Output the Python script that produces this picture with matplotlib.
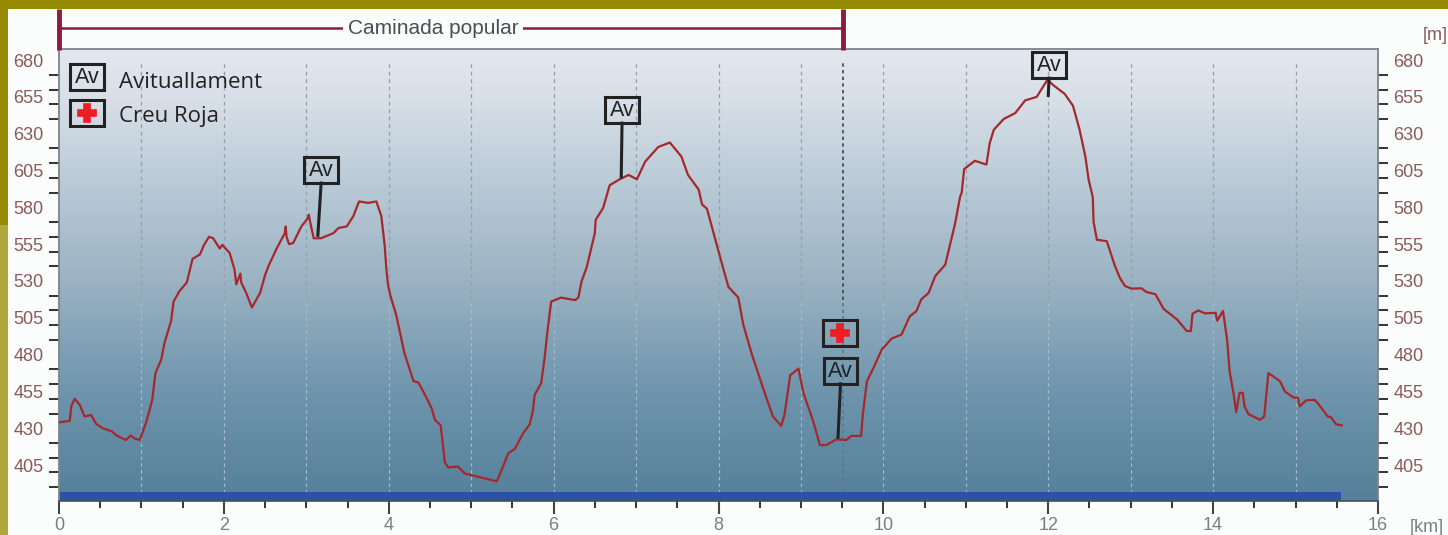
#!/usr/bin/env python3
# Perfil d'elevacio de la caminada popular
import numpy as np
import matplotlib
matplotlib.use("Agg")
import matplotlib.pyplot as plt
from matplotlib.colors import LinearSegmentedColormap
from matplotlib.patches import Rectangle

# Profile
km = [0, 0.13, 0.15, 0.19, 0.25, 0.31, 0.39, 0.45, 0.53, 0.64, 0.70, 0.81, 0.87, 0.92, 0.98,
      1.06, 1.13, 1.17, 1.24, 1.28, 1.36, 1.39, 1.46, 1.55, 1.62, 1.71, 1.76, 1.82, 1.87, 1.95,
      1.98, 2.07, 2.13, 2.15, 2.20, 2.21, 2.27, 2.34, 2.44, 2.50, 2.54, 2.64, 2.74, 2.75, 2.76,
      2.79, 2.84, 2.94, 3.02, 3.03, 3.05, 3.09, 3.18, 3.33, 3.39, 3.49, 3.57, 3.64, 3.75, 3.85,
      3.91, 3.95, 3.97, 3.99, 4.02, 4.09, 4.19, 4.30, 4.36, 4.44, 4.52, 4.56, 4.63, 4.68, 4.72,
      4.84, 4.92, 5.10, 5.31, 5.35, 5.45, 5.53, 5.63, 5.71, 5.75, 5.77, 5.85, 5.89, 5.93, 5.97,
      6.09, 6.26, 6.30, 6.34, 6.40, 6.50, 6.51, 6.60, 6.68, 6.80, 6.91, 7.01, 7.11, 7.27, 7.41,
      7.55, 7.63, 7.76, 7.80, 7.86, 7.94, 8.05, 8.12, 8.24, 8.30, 8.40, 8.54, 8.66, 8.76, 8.80,
      8.87, 8.97, 9.03, 9.15, 9.23, 9.31, 9.43, 9.55, 9.61, 9.73, 9.75, 9.80, 9.88, 9.98, 10.10,
      10.22, 10.32, 10.40, 10.46, 10.55, 10.63, 10.75, 10.87, 10.93, 10.95, 10.98, 11.11, 11.25,
      11.29, 11.34, 11.46, 11.60, 11.72, 11.86, 11.99, 12.06, 12.20, 12.30, 12.38, 12.45, 12.49,
      12.54, 12.55, 12.59, 12.71, 12.81, 12.87, 12.93, 13.01, 13.13, 13.19, 13.30, 13.40, 13.56,
      13.68, 13.73, 13.75, 13.82, 13.90, 14.03, 14.05, 14.12, 14.17, 14.20, 14.25, 14.28, 14.32,
      14.36, 14.38, 14.43, 14.57, 14.62, 14.67, 14.81, 14.87, 14.97, 15.03, 15.05, 15.13, 15.23,
      15.27, 15.39, 15.43, 15.49, 15.56]
elev = [434, 435, 445, 450, 446, 438, 439, 433, 430, 428, 425, 422, 425, 423, 422,
        434.5, 449, 467.5, 476.6, 488, 503, 516, 523, 529, 545, 548, 554.5, 560, 559, 552,
        554.5, 549, 537.6, 527.7, 535, 529, 522, 512, 522, 534, 540, 552, 562.5, 567, 560,
        555, 555.7, 567, 572.7, 575, 569, 559, 559, 562.5, 566, 567, 574, 584, 583, 584,
        574, 554.5, 539, 527.7, 520, 507, 481, 462, 461, 452.7, 443.6, 435.7, 432, 407, 403.4,
        404, 399.3, 396.8, 394, 399, 413, 416, 426.6, 432.7, 442.5, 452.7, 460.7, 477.7, 498, 516,
        518.7, 517, 518.7, 530, 539, 562.5, 571.5, 579.5, 595, 599, 602, 599, 611, 621, 624,
        614.5, 602, 592, 582, 579, 562.5, 540, 526, 518.7, 500.5, 481, 457.3, 438, 431.6, 439,
        466, 470.5, 454, 434.5, 418.6, 418.6, 422.5, 422, 424.8, 424.8, 439, 461.8, 471, 483.4, 490.9,
        493.6, 506, 509.5, 517.5, 522, 533.4, 541, 569, 587, 590, 606, 611.6, 609,
        623.6, 632.7, 640, 644, 652.6, 655, 666.6, 663, 657, 649, 632.7, 614.5, 598.7,
        587, 570, 558, 557, 540, 532, 526.6, 524.8, 525, 522.5, 521, 511, 504,
        496, 496, 507.7, 510, 508, 508.4, 503, 509.6, 490, 468.6, 452.7, 441, 454,
        454, 445, 439.5, 435.7, 438, 467.5, 462, 455, 451, 450.5, 444.8, 449, 449.3,
        447, 438, 437.5, 432.7, 432]

y_labels = [680, 655, 630, 605, 580, 555, 530, 505, 480, 455, 430, 405]
x_labels = [0, 2, 4, 6, 8, 10, 12, 14, 16]

# Av markers: box centre, then where the stem lands on the profile
av_km = [3.18, 6.83, 9.48, 12.01]
av_elev = [605.3, 646, 469, 676.6]
stem_km = [3.14, 6.82, 9.45, 12.0]
stem_elev = [561, 600.6, 424, 656]
cross_km = 9.47
cross_elev = 494.7

route_name = "Caminada popular"
route_end = 9.51
total_km = 15.55

BG = "#fbfcfc"
OLIVE = "#958a00"
OLIVE_LIGHT = "#b0a83c"
MAROON = "#8c1a3c"
LINE_RED = "#a5282c"
BOX_W = 0.41
BOX_H = 17.6

fig = plt.figure(figsize=(14.48, 5.35), dpi=100, facecolor=BG)
ax = fig.add_axes([59 / 1448, 1 - 501 / 535, (1378 - 59) / 1448, (501 - 49) / 535])
ax.set_xlim(0, 16)
ax.set_ylim(380.6, 687.5)

# Olive frame of the page
fig.patches.append(Rectangle((0, 1 - 9 / 535), 1, 9 / 535, transform=fig.transFigure, color=OLIVE, lw=0))
fig.patches.append(Rectangle((0, 1 - 225 / 535), 8 / 1448, 216 / 535, transform=fig.transFigure, color=OLIVE, lw=0))
fig.patches.append(Rectangle((0, 0), 8 / 1448, 310 / 535, transform=fig.transFigure, color=OLIVE_LIGHT, lw=0))

# Background gradient
cmap = LinearSegmentedColormap.from_list("sky", [(0, "#e3e8ef"), (0.12, "#d6dee7"), (0.3, "#b9cad6"),
                                                 (0.5, "#9db4c4"), (0.75, "#7096ae"), (1, "#557f9a")])
ax.imshow(np.linspace(0, 1, 256).reshape(-1, 1), cmap=cmap, aspect="auto", extent=[0, 16, 380.6, 687.5], zorder=0)

# Grid, dark on the light part and pale on the dark part
grid_km = np.arange(1, 16)
ax.vlines(grid_km, 517, 680, color="#939ea8", lw=0.9, linestyles=(0, (3, 3)), zorder=1)
ax.vlines(grid_km, 386, 517, color="#a9bdca", lw=0.8, linestyles=(0, (3, 3)), zorder=1)
ax.vlines(route_end, 517, 680, color="#3c4650", lw=1.2, linestyles=(0, (2, 2)), zorder=1)
ax.vlines(route_end, 386, 517, color="#55798f", lw=1.2, linestyles=(0, (2, 2)), zorder=1)

# Distance bar at the bottom
ax.barh(383.6, total_km, height=6, left=0, color="#2c52a8", zorder=2)

ax.plot(km, elev, color=LINE_RED, lw=1.6, zorder=3)


def draw_box(x, y):
    ax.add_patch(Rectangle((x - BOX_W / 2, y - BOX_H / 2), BOX_W, BOX_H, fill=False,
                           edgecolor="#222222", lw=2.2, zorder=5))


def draw_av(x, y):
    draw_box(x, y)
    ax.text(x, y - 0.5, "Av", ha="center", va="center", fontsize=15.5, color="#222222",
            family="Liberation Sans", zorder=5)


def draw_cross(x, y):
    draw_box(x, y)
    ax.plot(x, y, marker="P", ms=13.5, color="#ee1c25", mew=1.2, mec="#ee1c25", zorder=5)


for i in range(len(av_km)):
    draw_av(av_km[i], av_elev[i])
    ax.plot([av_km[i], stem_km[i]], [av_elev[i] - BOX_H / 2, stem_elev[i]], color="#222222", lw=2.2, zorder=4)

draw_cross(cross_km, cross_elev)

# Legend
draw_av(0.34, 668.5)
draw_cross(0.34, 644)
ax.text(0.73, 664.7, "Avituallament", fontsize=16, family="Open Sans", color="#222222", va="center", zorder=5)
ax.text(0.73, 641.5, "Creu Roja", fontsize=16, family="Open Sans", color="#222222", va="center", zorder=5)

# Route bracket above the plot
ax.plot([0, route_end], [701.7, 701.7], color=MAROON, lw=1.8, clip_on=False, zorder=6)
for x in [0, route_end]:
    ax.plot([x, x], [687, 714.6], color=MAROON, lw=3.5, clip_on=False, solid_capstyle="butt", zorder=6)
ax.text(4.54, 701.2, route_name, ha="center", va="center", fontsize=15, color="#4a4f55",
        family="Liberation Sans", clip_on=False, zorder=7,
        bbox=dict(facecolor=BG, edgecolor="none", pad=3.5))

# Axes and ticks
for side in ["left", "right", "top"]:
    ax.spines[side].set_color("#7d8488")
    ax.spines[side].set_linewidth(1.3)
ax.spines["bottom"].set_color("#4a4f55")
ax.spines["bottom"].set_linewidth(1.2)

ax.set_yticks(y_labels)
ax.set_yticklabels([str(v) for v in y_labels])
ax.set_yticks(np.arange(390, 690, 10), minor=True)
ax.set_xticks(x_labels)
ax.set_xticklabels([str(v) for v in x_labels])
ax.set_xticks(np.arange(0, 16.5, 0.5), minor=True)

ax.tick_params(axis="y", which="major", length=0, left=True, right=True, labelleft=True, labelright=True,
               pad=11, labelsize=13, labelcolor="#8a5a5a", labelfontfamily="Liberation Sans")
ax.tick_params(axis="y", which="minor", length=7, width=1.4, left=True, right=True, color="#333333")
ax.tick_params(axis="x", which="major", length=9, width=1.5, pad=2.5, labelsize=13, labelcolor="#7b7f82",
               color="#444444", labelfontfamily="Liberation Sans")
ax.tick_params(axis="x", which="minor", length=5, width=1.4, color="#333333")

fig.text(1448 / 1448, 1 - 35 / 535, "[m]", ha="right", va="center", fontsize=13, color="#8a5a5a",
         family="Liberation Sans")
fig.text(1444 / 1448, 1 - 527 / 535, "[km]", ha="right", va="center", fontsize=13, color="#7b7f82",
         family="Liberation Sans")

plt.savefig("out.png", dpi=100, facecolor=BG)
